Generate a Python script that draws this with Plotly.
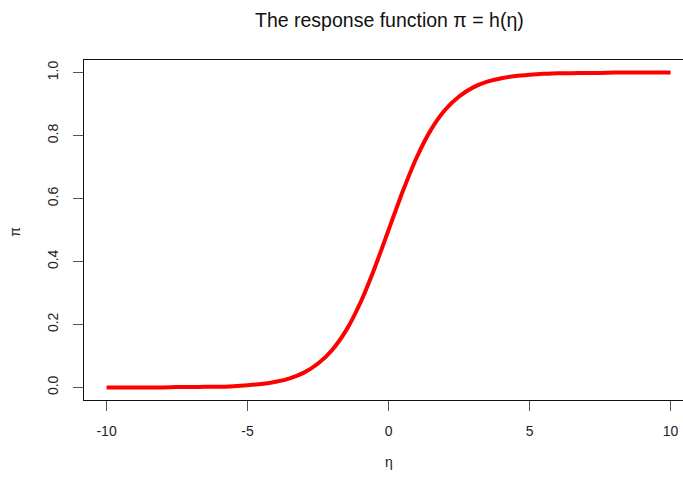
import plotly.graph_objects as go

# Linear predictor values and the response
eta = [-10, -9.5, -9, -8.5, -8, -7.5, -7, -6.5, -6, -5.5, -5, -4.5, -4, -3.5, -3,
       -2.5, -2, -1.5, -1, -0.5, 0, 0.5, 1, 1.5, 2, 2.5, 3, 3.5, 4, 4.5, 5,
       5.5, 6, 6.5, 7, 7.5, 8, 8.5, 9, 9.5, 10]
pi_vals = [0.000, 0.000, 0.000, 0.000, 0.000, 0.001, 0.001, 0.002, 0.002, 0.004, 0.007,
           0.011, 0.018, 0.029, 0.047, 0.076, 0.119, 0.182, 0.269, 0.378, 0.500,
           0.622, 0.731, 0.818, 0.881, 0.924, 0.953, 0.971, 0.982, 0.989, 0.993,
           0.996, 0.998, 0.998, 0.999, 0.999, 1.000, 1.000, 1.000, 1.000, 1.000]

x_ticks = [-10, -5, 0, 5, 10]
y_ticks = [0.0, 0.2, 0.4, 0.6, 0.8, 1.0]
y_tick_text = ["0.0", "0.2", "0.4", "0.6", "0.8", "1.0"]

FONT = "Liberation Sans, Arial, sans-serif"

fig = go.Figure()
fig.add_trace(go.Scatter(
    x=eta, y=pi_vals, mode="lines",
    line=dict(color="#ff0000", width=4, shape="spline", smoothing=0.6),
    hoverinfo="x+y", showlegend=False,
))

fig.update_layout(
    width=683, height=478,
    margin=dict(l=84, r=0, t=60, b=78),
    paper_bgcolor="white", plot_bgcolor="white",
    font=dict(family=FONT, size=14, color="#222222"),
    xaxis=dict(
        range=[-10.8, 10.44], tickvals=x_ticks, ticktext=[str(v) for v in x_ticks],
        showgrid=False, zeroline=False,
        showline=True, linecolor="#111111", linewidth=1, mirror=True,
        ticks="outside", ticklen=10, tickcolor="#555555", tickwidth=1,
        ticklabelstandoff=8,
    ),
    yaxis=dict(
        range=[-0.04, 1.04], tickvals=y_ticks, ticktext=y_tick_text,
        showgrid=False, zeroline=False,
        showline=True, linecolor="#111111", linewidth=1,
        ticks="outside", ticklen=10, tickcolor="#555555", tickwidth=1,
        tickangle=-90, ticklabelstandoff=9,
    ),
    annotations=[
        dict(text="The response function π = h(η)", x=0.510, y=1.1176,
             xref="paper", yref="paper", xanchor="center", yanchor="middle",
             showarrow=False, font=dict(family=FONT, size=19.5, color="#111111")),
        dict(text="η", x=0.509, y=-0.182, xref="paper", yref="paper",
             xanchor="center", yanchor="middle", showarrow=False,
             font=dict(family=FONT, size=14, color="#222222")),
        dict(text="π", x=-0.115, y=0.495, xref="paper", yref="paper",
             xanchor="center", yanchor="middle", showarrow=False, textangle=-90,
             font=dict(family=FONT, size=14, color="#222222")),
    ],
)

fig.write_html("out.html")
